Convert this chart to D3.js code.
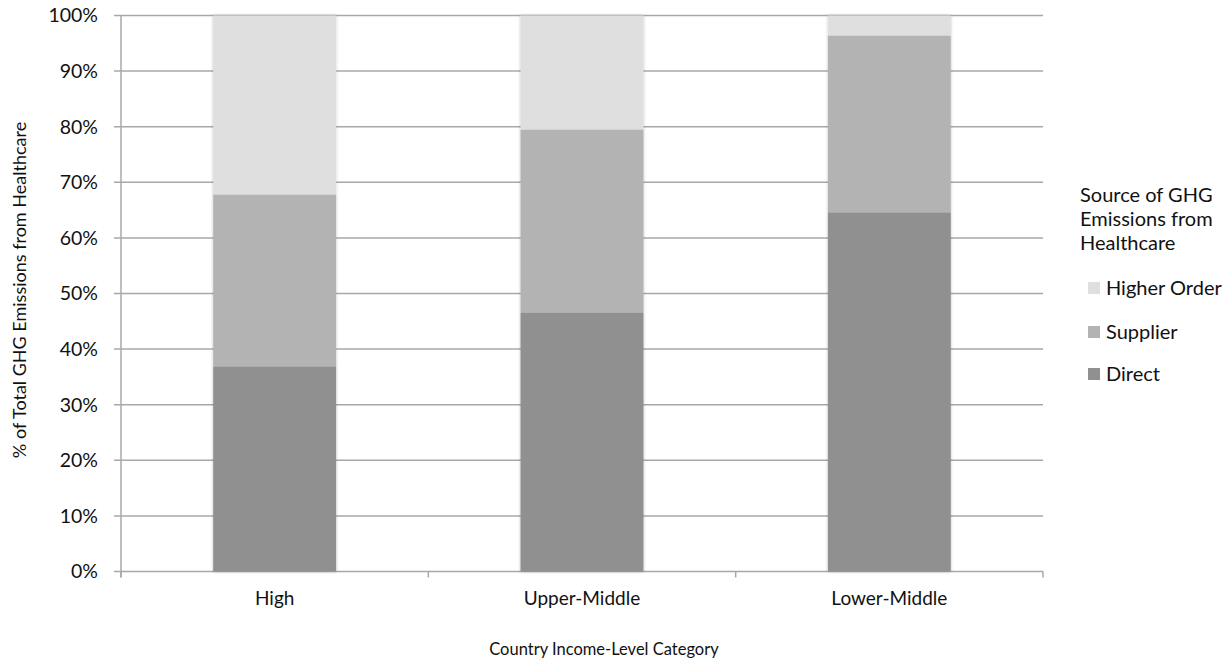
<!DOCTYPE html>
<html>
<head>
<meta charset="utf-8">
<script src="https://cdn.jsdelivr.net/npm/d3@7"></script>
<style>
  body { margin: 0; background: #fff; }
  svg { display: block; }
  text { font-family: Lato, "Open Sans", sans-serif; fill: #111; }
</style>
</head>
<body>
<svg id="chart" width="1229" height="661"></svg>
<script>
const categories = ["High", "Upper-Middle", "Lower-Middle"];
const seriesNames = ["Direct", "Supplier", "Higher Order"];
const direct = [36.9, 46.6, 64.6];
const supplier = [30.9, 32.9, 31.8];
const higherOrder = [32.2, 20.5, 3.6];
const yTicks = [0, 10, 20, 30, 40, 50, 60, 70, 80, 90, 100];
const colors = ["#909090", "#b3b3b3", "#dfdfdf"];

(function () {
const svg = d3.select("#chart");
const pLeft = 121, pRight = 1043, pTop = 15.5, pBottom = 571.5;

const x = d3.scaleBand().domain(categories).range([pLeft, pRight]).paddingInner(0.6).paddingOuter(0.3);
const y = d3.scaleLinear().domain([0, 100]).range([pBottom, pTop]);

// gridlines
svg.append("g").selectAll("line").data(yTicks).join("line")
  .attr("x1", pLeft - 7).attr("x2", pRight)
  .attr("y1", d => y(d)).attr("y2", d => y(d))
  .attr("stroke", "#a8a8a8").attr("stroke-width", 1.5);

// stacked data
const rows = categories.map((c, i) => ({cat: c, "Direct": direct[i], "Supplier": supplier[i], "Higher Order": higherOrder[i]}));
const stack = d3.stack().keys(seriesNames)(rows);

const defs = svg.append("defs");
const f = defs.append("filter").attr("id", "sh").attr("x", "-10%").attr("width", "120%");
f.append("feDropShadow").attr("dx", 0).attr("dy", 0).attr("stdDeviation", 1.5).attr("flood-color", "#000").attr("flood-opacity", 0.25);

const barsG = svg.append("g").attr("filter", "url(#sh)");
stack.forEach((s, k) => {
  barsG.append("g").attr("fill", colors[k]).selectAll("rect").data(s).join("rect")
    .attr("x", d => x(d.data.cat))
    .attr("width", x.bandwidth())
    .attr("y", d => y(d[1]))
    .attr("height", d => y(d[0]) - y(d[1]));
});

// y axis line
svg.append("line").attr("x1", pLeft).attr("x2", pLeft).attr("y1", pTop).attr("y2", pBottom + 6)
  .attr("stroke", "#a8a8a8").attr("stroke-width", 1.5);
// x axis
const xAxis = d3.axisBottom(x).tickSize(0).tickPadding(20);
const gx = svg.append("g").attr("transform", `translate(0,${pBottom})`).call(xAxis);
gx.select(".domain").remove();
gx.selectAll("text").attr("font-size", 19).attr("font-family", "Lato, 'Open Sans', sans-serif").attr("fill", "#111");
// x ticks at category boundaries
const bounds = [pLeft].concat(categories.map(c => x(c) + x.bandwidth() / 2 + x.step() / 2));
svg.append("g").selectAll("line").data(bounds).join("line")
  .attr("x1", d => d).attr("x2", d => d).attr("y1", pBottom).attr("y2", pBottom + 6)
  .attr("stroke", "#a8a8a8").attr("stroke-width", 1.5);

// y labels
svg.append("g").selectAll("text").data(yTicks).join("text")
  .attr("x", 98).attr("y", d => y(d)).attr("dy", "0.35em")
  .attr("text-anchor", "end").attr("font-size", 19.5)
  .text(d => d + "%");

// axis titles
svg.append("text").attr("x", 604).attr("y", 655)
  .attr("text-anchor", "middle").attr("font-size", 16.5).text("Country Income-Level Category");
svg.append("text").attr("transform", `translate(26,${290}) rotate(-90)`)
  .attr("text-anchor", "middle").attr("font-size", 18).text("% of Total GHG Emissions from Healthcare");

// legend
const lg = svg.append("g");
["Source of GHG", "Emissions from", "Healthcare"].forEach((t, i) => {
  lg.append("text").attr("x", 1080).attr("y", 202 + i * 24).attr("font-size", 20).text(t);
});
const legendOrder = ["Higher Order", "Supplier", "Direct"];
const lys = [288, 332, 374];
legendOrder.forEach((n, i) => {
  const k = seriesNames.indexOf(n);
  lg.append("rect").attr("x", 1088).attr("y", lys[i] - 6).attr("width", 12).attr("height", 12).attr("fill", colors[k]);
  lg.append("text").attr("x", 1106).attr("y", lys[i]).attr("dy", "0.35em").attr("font-size", 20).text(n);
});
})();
</script>
</body>
</html>
